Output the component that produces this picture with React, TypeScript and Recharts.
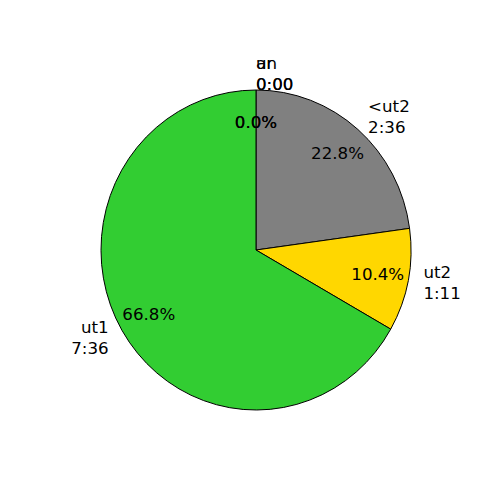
import React from "react";
import { PieChart, Pie, Cell, Sector } from "recharts";

const categories = ["ar", "un", "<ut2", "ut2", "ut1"];
const minutes = [0, 0, 156, 71, 456];
const timeLabels = ["0:00", "0:00", "2:36", "1:11", "7:36"];
const colors = ["#1f77b4", "#ff7f0e", "#808080", "#ffd700", "#32cd32"];

const data = categories.map((name, i) => ({
  name,
  value: minutes[i],
  time: timeLabels[i],
}));

const RADIAN = Math.PI / 180;
const FONT = "DejaVu Sans, sans-serif";
const R = 157.5;
// the reference pie is slightly squashed: wider radius vertically than horizontally
const RX = 155;
const RY = 160;

const renderShape = (props: any) => {
  const { cx, cy } = props;
  const t = `translate(${cx},${cy}) scale(${RX / R},${RY / R}) translate(${-cx},${-cy})`;
  return (
    <g transform={t}>
      <Sector {...props} vectorEffect="non-scaling-stroke" />
    </g>
  );
};

const renderLabel = (props: any) => {
  const { cx, cy, midAngle, percent, payload } = props;
  const cos = Math.cos(-midAngle * RADIAN);
  const sin = Math.sin(-midAngle * RADIAN);
  // outer label: name + time
  const lx = cx + 1.1 * RX * cos;
  const ly = cy + 1.1 * RY * sin;
  const anchor = cos > -1e-9 ? "start" : "end";
  // inner percent label
  const px = cx + 0.8 * RX * cos;
  const py = cy + 0.8 * RY * sin;
  return (
    <g>
      <text x={lx} y={ly} textAnchor={anchor} fontFamily={FONT} fontSize={16.67} fill="#000">
        <tspan x={lx} y={ly - 10.5} dominantBaseline="central">
          {payload.name}
        </tspan>
        <tspan x={lx} y={ly + 10.5} dominantBaseline="central">
          {payload.time}
        </tspan>
      </text>
      <text
        x={px}
        y={py}
        textAnchor="middle"
        dominantBaseline="central"
        fontFamily={FONT}
        fontSize={16.67}
        fill="#000"
      >
        {(percent * 100).toFixed(1) + "%"}
      </text>
    </g>
  );
};

export default function App() {
  return (
    <div style={{ position: "absolute", left: 0, top: 0, background: "#fff" }}>
      <PieChart width={500} height={500} margin={{ top: 0, right: 0, bottom: 0, left: 0 }}>
        <Pie
          data={data}
          dataKey="value"
          nameKey="name"
          cx={256}
          cy={250}
          outerRadius={R}
          startAngle={90}
          endAngle={-270}
          stroke="#000"
          strokeWidth={1}
          shape={renderShape}
          label={renderLabel}
          labelLine={false}
          isAnimationActive={false}
        >
          {data.map((d, i) => (
            <Cell key={d.name} fill={colors[i]} />
          ))}
        </Pie>
      </PieChart>
    </div>
  );
}
